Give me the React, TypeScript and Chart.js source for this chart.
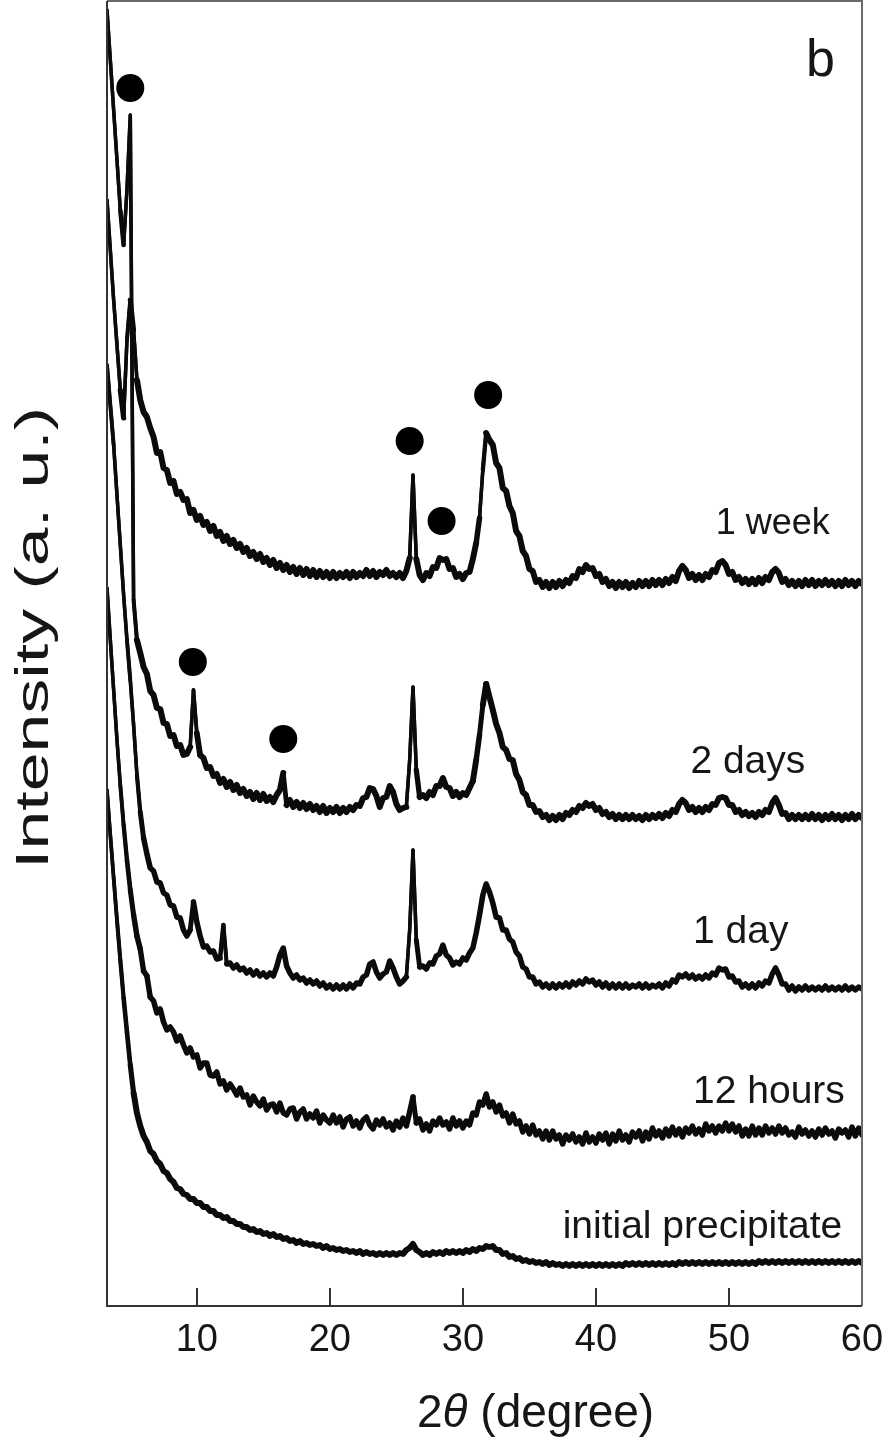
import { useEffect, useRef } from "react";
import { Chart, registerables } from "chart.js";

Chart.register(...registerables);

const FONT = '"Liberation Sans", Arial, Helvetica, sans-serif';

// Scan grid: 2θ from 3.25° to 60° in 0.25° steps (one row per degree below)
const TWO_THETA_START = 3.25;
const TWO_THETA_STEP = 0.25;

// Intensities relative to each pattern's own baseline (a. u.)
const week1 = [
  383, 333, 283, 238,
  193, 165, 243, 283,
  253, 203, 183, 171,
  166, 155, 146, 130,
  131, 115, 113, 100,
  102, 89, 91, 83,
  84, 70, 73, 63,
  67, 58, 61, 52,
  57, 47, 51, 42,
  47, 39, 43, 35,
  39, 31, 35, 27,
  31, 24, 29, 21,
  25, 18, 23, 15,
  20, 13, 18, 11,
  16, 9, 15, 8,
  14, 7, 13, 6,
  12, 6, 11, 5,
  11, 5, 10, 6,
  11, 5, 11, 6,
  10, 7, 13, 7,
  12, 6, 11, 8,
  13, 7, 10, 6,
  10, 5, 12, 25,
  108, 24, 8, 3,
  10, 7, 16, 15,
  25, 23, 24, 14,
  15, 6, 9, 4,
  10, 11, 24, 40,
  65, 113, 150, 143,
  138, 120, 115, 95,
  92, 77, 70, 52,
  47, 32, 27, 14,
  12, 1, 3, -4,
  1, -5, 1, -4,
  2, -3, 3, 0,
  7, 5, 14, 11,
  18, 14, 15, 7,
  9, 1, 4, -3,
  1, -5, 1, -4,
  1, -5, 0, -4,
  2, -3, 2, -3,
  3, -2, 3, -2,
  4, 0, 6, 2,
  12, 17, 13, 5,
  9, 3, 8, 3,
  9, 6, 13, 11,
  20, 22, 18, 9,
  11, 3, 6, 0,
  4, -1, 4, -1,
  5, 0, 6, 3,
  11, 14, 10, 1,
  4, -2, 2, -3,
  2, -3, 3, -2,
  3, -3, 2, -2,
  3, -2, 2, -3,
  2, -3, 3, -2,
  2, -3, 2, -1,
];

const days2 = [
  807, 757, 707, 657,
  607, 572, 627, 702,
  217, 177, 164, 150,
  143, 126, 122, 109,
  108, 94, 93, 81,
  82, 71, 72, 62,
  63, 70, 127, 84,
  62, 59, 49, 50,
  41, 43, 34, 38,
  30, 35, 27, 32,
  24, 28, 21, 25,
  18, 24, 17, 23,
  16, 20, 15, 22,
  27, 44, 12, 17,
  10, 15, 9, 14,
  8, 13, 7, 11,
  5, 11, 4, 9,
  5, 10, 4, 9,
  5, 10, 7, 12,
  11, 19, 20, 29,
  28, 21, 10, 19,
  20, 31, 25, 13,
  7, 9, 10, 57,
  130, 47, 20, 22,
  19, 25, 22, 31,
  31, 39, 30, 29,
  21, 25, 20, 24,
  22, 29, 36, 57,
  82, 112, 133, 120,
  107, 93, 84, 70,
  67, 58, 57, 43,
  37, 25, 22, 12,
  12, 5, 6, 0,
  2, -3, 1, -3,
  2, -2, 4, 2,
  7, 5, 11, 9,
  14, 11, 13, 7,
  9, 3, 5, 0,
  3, -2, 2, -2,
  2, -2, 2, -2,
  1, -3, 2, -2,
  2, -1, 3, -1,
  4, 1, 7, 5,
  13, 17, 14, 7,
  10, 5, 9, 5,
  10, 7, 13, 12,
  19, 20, 19, 12,
  12, 5, 7, 2,
  5, 1, 4, 0,
  5, 2, 7, 5,
  14, 19, 12, 3,
  4, -2, 2, -2,
  2, -2, 2, -2,
  3, -2, 2, -3,
  2, -2, 3, -2,
  2, -3, 2, -2,
  3, -2, 2, -1,
];

const day1 = [
  623, 583, 543, 493,
  443, 393, 348, 308,
  263, 213, 176, 150,
  134, 120, 117, 106,
  105, 95, 93, 83,
  82, 71, 70, 58,
  52, 58, 86, 66,
  52, 41, 42, 36,
  37, 29, 30, 63,
  24, 25, 20, 23,
  18, 20, 15, 18,
  13, 17, 12, 15,
  11, 15, 12, 21,
  33, 40, 22, 15,
  10, 13, 8, 10,
  5, 8, 4, 7,
  2, 5, 0, 3,
  -1, 3, -1, 3,
  -1, 4, 0, 5,
  4, 11, 13, 24,
  26, 16, 10, 14,
  16, 27, 20, 11,
  4, 7, 11, 58,
  138, 48, 21, 22,
  19, 25, 24, 32,
  34, 43, 33, 30,
  23, 26, 24, 30,
  28, 35, 40, 55,
  73, 93, 104, 96,
  85, 71, 70, 58,
  58, 49, 46, 36,
  32, 21, 19, 11,
  11, 4, 6, 1,
  4, 0, 4, 0,
  4, 1, 5, 1,
  6, 3, 7, 4,
  9, 6, 8, 3,
  6, 1, 5, 0,
  4, 0, 4, 0,
  4, 0, 3, 1,
  4, 0, 4, 0,
  3, 1, 4, 0,
  5, 2, 8, 6,
  13, 11, 14, 10,
  13, 9, 12, 9,
  13, 10, 15, 13,
  20, 18, 19, 11,
  12, 6, 7, 1,
  4, 0, 4, 0,
  5, 2, 7, 5,
  14, 20, 13, 4,
  4, -2, 2, -3,
  1, -2, 2, -2,
  1, -2, 1, -2,
  2, -2, 1, -2,
  1, -2, 2, -2,
  1, -2, 1, -1,
];

const hours12 = [
  545, 493, 443, 393,
  348, 308, 273, 243,
  218, 197, 184, 162,
  157, 136, 132, 120,
  124, 111, 103, 106,
  101, 92, 97, 88,
  80, 85, 76, 78,
  65, 70, 70, 58,
  57, 61, 49, 52,
  43, 49, 44, 38,
  45, 36, 38, 28,
  37, 31, 27, 34,
  23, 28, 29, 21,
  30, 20, 18, 24,
  25, 14, 21, 24,
  14, 19, 15, 22,
  10, 18, 13, 10,
  18, 10, 16, 6,
  14, 16, 7, 12,
  5, 13, 16, 8,
  4, 13, 8, 14,
  6, 10, 3, 12,
  6, 15, 7, 21,
  36, 10, 14, 3,
  9, 2, 12, 8,
  15, 8, 11, 4,
  15, 7, 12, 5,
  12, 8, 20, 18,
  31, 28, 39, 26,
  31, 21, 28, 17,
  20, 10, 19, 9,
  12, 1, 7, -1,
  8, -2, 2, -6,
  2, -7, 2, -6,
  -2, -11, -2, -7,
  -1, -9, -4, -11,
  0, -9, -4, -10,
  -1, -7, 0, -11,
  -1, -8, 2, -7,
  -2, -9, 1, -4,
  2, -8, 1, -6,
  5, -3, 2, -5,
  4, -3, 6, -2,
  4, -4, 5, 0,
  7, -1, 4, -2,
  9, 2, 7, 0,
  7, 2, 10, 2,
  9, 1, 7, -3,
  4, -3, 7, -2,
  5, -2, 7, 0,
  5, -1, 7, 0,
  5, -2, 1, -4,
  6, -1, 3, -3,
  2, -4, 4, -2,
  5, -1, 2, -5,
  4, 0, 3, -4,
  6, -3, 5, -2,
];

const initial = [
  473, 428, 385, 343,
  303, 265, 231, 198,
  170, 150, 137, 127,
  121, 112, 109, 102,
  99, 92, 90, 84,
  81, 75, 74, 69,
  68, 64, 64, 60,
  60, 56, 56, 52,
  52, 48, 48, 45,
  46, 42, 42, 39,
  39, 36, 36, 33,
  34, 31, 32, 29,
  30, 27, 29, 26,
  27, 24, 25, 22,
  23, 20, 22, 19,
  20, 18, 19, 17,
  18, 15, 17, 14,
  15, 13, 14, 12,
  13, 11, 12, 10,
  12, 9, 11, 9,
  10, 8, 10, 8,
  10, 8, 10, 8,
  10, 9, 13, 15,
  19, 13, 11, 8,
  10, 8, 11, 9,
  11, 9, 12, 10,
  12, 10, 12, 10,
  13, 11, 14, 12,
  15, 14, 17, 16,
  17, 13, 13, 9,
  10, 6, 7, 4,
  5, 2, 3, 1,
  2, 0, 1, -1,
  1, -2, 0, -2,
  -1, -3, -1, -3,
  -1, -3, -1, -3,
  -1, -3, -1, -3,
  -1, -3, -1, -3,
  -1, -3, -1, -3,
  0, -2, 0, -2,
  0, -2, 0, -2,
  0, -2, 0, -2,
  0, -2, 0, -2,
  1, -1, 1, -1,
  1, -1, 1, -1,
  1, -1, 1, -1,
  1, -1, 1, -1,
  1, -1, 1, -1,
  1, -1, 1, -1,
  2, 0, 2, 0,
  2, 0, 2, 0,
  2, 0, 2, 0,
  2, 0, 2, 0,
  2, 0, 2, 0,
  2, 0, 2, 0,
  2, 0, 2, 0,
  2, 0, 2, 0,
];

const sampleNames = ["1 week", "2 days", "1 day", "12 hours", "initial precipitate"];
const sampleSeries = [week1, days2, day1, hours12, initial];
// vertical shift applied to each pattern in the stacked plot
const stackOffsets = [723, 489, 318, 173, 43];
// stroke width of the noisy baseline parts of each pattern
const traceWidths = [6, 6, 5.5, 5.5, 6];
const STEEP_WIDTH = 3.5;

// filled-circle peak markers (2θ, stacked height)
const peakMarkAngles = [5.0, 9.7, 16.5, 26.0, 28.4, 31.9];
const peakMarkHeights = [1218, 644, 567, 865, 785, 911];

const xTickValues = [10, 20, 30, 40, 50, 60];

// where each sample name sits (2θ, stacked height of the text baseline, font px)
const labelAnchors = [
  [49.0, 772, 36],
  [47.1, 533, 39],
  [47.3, 363, 39],
  [47.3, 203, 39],
  [37.5, 68, 39],
];

const INK = "#0b0b0b";
const TEXT = "#161616";

const zeroPadding = (scale: any) => {
  scale.paddingLeft = 0;
  scale.paddingRight = 0;
  scale.paddingTop = 0;
  scale.paddingBottom = 0;
};

// band stroke: full width on the noisy floor, tapering off where the pattern is steep
const bandWidth = (base: number) => (ctx: any) => {
  const dy = Math.abs(ctx.p1.parsed.y - ctx.p0.parsed.y);
  if (dy <= 20) return base;
  if (dy >= 45) return STEEP_WIDTH;
  return base - ((base - STEEP_WIDTH) * (dy - 20)) / 25;
};

const decorations = {
  id: "decorations",
  afterDatasetsDraw(chart: any) {
    const { ctx, chartArea: a, scales } = chart;
    const xs = scales.x;
    const ys = scales.y;
    ctx.save();

    // sample names
    ctx.fillStyle = TEXT;
    ctx.textAlign = "left";
    ctx.textBaseline = "alphabetic";
    sampleNames.forEach((name, i) => {
      const [lx, ly, size] = labelAnchors[i];
      ctx.font = `${size}px ${FONT}`;
      ctx.fillText(name, xs.getPixelForValue(lx), ys.getPixelForValue(ly));
    });

    // panel letter
    ctx.font = `52px ${FONT}`;
    ctx.fillText("b", a.right - 56, a.top + 75);

    // frame: darker axes on the left and bottom, lighter box edges
    ctx.lineWidth = 2;
    ctx.strokeStyle = "#6a6a6a";
    ctx.beginPath();
    ctx.moveTo(a.left, a.top);
    ctx.lineTo(a.right, a.top);
    ctx.lineTo(a.right, a.bottom);
    ctx.stroke();
    ctx.strokeStyle = "#333";
    ctx.beginPath();
    ctx.moveTo(a.left, a.top);
    ctx.lineTo(a.left, a.bottom);
    ctx.lineTo(a.right, a.bottom);
    ctx.stroke();

    // inward tick marks on the 2θ axis
    ctx.beginPath();
    xTickValues.forEach((v) => {
      if (v >= 60) return;
      const px = Math.round(xs.getPixelForValue(v));
      ctx.moveTo(px, a.bottom);
      ctx.lineTo(px, a.bottom - 18);
    });
    ctx.stroke();

    // x-axis title: 2θ (degree), θ in italics
    ctx.fillStyle = TEXT;
    let tx = 417;
    const ty = 1427;
    ctx.font = `46px ${FONT}`;
    ctx.fillText("2", tx, ty);
    tx += ctx.measureText("2").width;
    ctx.font = `italic 46px ${FONT}`;
    ctx.fillText("θ", tx, ty);
    tx += ctx.measureText("θ").width;
    ctx.font = `46px ${FONT}`;
    ctx.fillText(" (degree)", tx, ty);

    // y-axis title, drawn elongated along its reading direction
    const yTitle = "Intensity (a. u.)";
    ctx.font = `46px ${FONT}`;
    const w = ctx.measureText(yTitle).width;
    ctx.translate(35, 638);
    ctx.rotate(-Math.PI / 2);
    ctx.scale(462 / w, 1);
    ctx.textAlign = "center";
    ctx.textBaseline = "middle";
    ctx.fillText(yTitle, 0, 0);

    ctx.restore();
  },
};

export default function App() {
  const canvasRef = useRef<HTMLCanvasElement | null>(null);

  useEffect(() => {
    const canvas = canvasRef.current;
    if (!canvas) return;

    const points = sampleSeries.map((series, k) =>
      series.map((r, i) => ({
        x: TWO_THETA_START + TWO_THETA_STEP * i,
        y: stackOffsets[k] + r,
      }))
    );

    // continuous thin trace of each pattern
    const cores = points.map((data, k) => ({
      type: "line" as const,
      label: sampleNames[k],
      data,
      borderColor: INK,
      borderWidth: STEEP_WIDTH,
      pointRadius: 0,
      tension: 0,
      borderJoinStyle: "round" as const,
      borderCapStyle: "round" as const,
    }));

    // wider noise band laid over the same points
    const bands = points.map((data, k) => ({
      type: "line" as const,
      label: `${sampleNames[k]} band`,
      data,
      borderColor: INK,
      borderWidth: traceWidths[k],
      segment: { borderWidth: bandWidth(traceWidths[k]) },
      pointRadius: 0,
      tension: 0,
      borderJoinStyle: "round" as const,
      borderCapStyle: "round" as const,
    }));

    const markers = {
      type: "scatter" as const,
      label: "peaks",
      data: peakMarkAngles.map((x, i) => ({ x, y: peakMarkHeights[i] })),
      pointRadius: 14,
      pointBackgroundColor: "#000",
      pointBorderWidth: 0,
      showLine: false,
    };

    const chart = new Chart(canvas, {
      type: "line",
      data: { datasets: [...cores, ...bands, markers] as any },
      options: {
        animation: false,
        responsive: true,
        maintainAspectRatio: false,
        events: [],
        layout: { autoPadding: false, padding: { left: 107, top: 1, right: 20, bottom: 0 } },
        plugins: { legend: { display: false }, tooltip: { enabled: false } },
        scales: {
          x: {
            type: "linear",
            min: 3.25,
            max: 60,
            afterBuildTicks: (scale: any) => {
              scale.ticks = xTickValues.map((value) => ({ value }));
            },
            afterFit: (scale: any) => {
              scale.height = 136;
              zeroPadding(scale);
            },
            grid: { display: false, drawTicks: false },
            border: { display: false },
            ticks: {
              autoSkip: false,
              maxRotation: 0,
              padding: 12,
              color: TEXT,
              font: { family: FONT, size: 38 },
            },
          },
          y: {
            type: "linear",
            display: false,
            min: 0,
            max: 1305,
            afterFit: zeroPadding,
          },
        },
      },
      plugins: [decorations],
    });

    return () => chart.destroy();
  }, []);

  return (
    <div style={{ position: "absolute", left: 0, top: 0, width: 882, height: 1442, background: "#fff" }}>
      <canvas ref={canvasRef} />
    </div>
  );
}
